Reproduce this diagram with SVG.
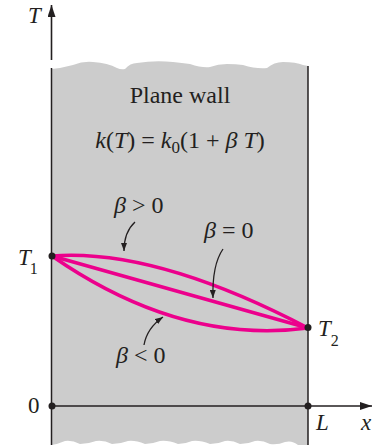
<svg xmlns="http://www.w3.org/2000/svg" width="381" height="447" viewBox="0 0 381 447">
<style>
.t{font-family:"Liberation Serif","Times New Roman",serif;fill:#231f20}
.i{font-style:italic}
.axis{stroke:#231f20;stroke-width:1.6;fill:none}
.wall{stroke:#231f20;stroke-width:1.5;fill:none}
.prof{stroke:#ec008c;stroke-width:3.5;fill:none;stroke-linecap:round}
.lead{stroke:#231f20;stroke-width:1.3;fill:none}
.dot{fill:#231f20}
</style>
<defs>
<marker id="ah" viewBox="0 0 12 8" refX="12" refY="4" markerWidth="12" markerHeight="8" markerUnits="userSpaceOnUse" orient="auto">
<path d="M0,0 L12,4 L0,8 Z" fill="#231f20"/>
</marker>
<marker id="sh" viewBox="0 0 8 6" refX="8" refY="3" markerWidth="8" markerHeight="6" markerUnits="userSpaceOnUse" orient="auto">
<path d="M0,0 L8,3 L0,6 Z" fill="#231f20"/>
</marker>
</defs>
<g id="wall">
<path d="M51.5,69 Q62,68 73,65 Q83,61 93,62 Q108,63 117,68 Q121,70 125,69 Q130,63 137,63 Q155,60 173,62 Q182,63 190,64 Q202,68 210,67 Q218,64 227,64 Q236,64 243,65 Q256,69 267,68 Q274,62 283,62 Q296,62 303,65 L308,66 L308,445 L298,445 Q292,440 285,442 Q278,445 270,444 Q262,440 255,441 Q248,444 240,444 Q232,440 225,441 Q218,444 210,444 Q200,440 192,441 Q185,444 178,444 Q168,440 160,441 Q152,444 145,444 Q135,440 128,441 Q120,444 112,444 Q104,440 96,441 Q88,444 80,444 Q72,440 65,441 Q58,444 51.5,445 Z" fill="#cccccc"/>
<line class="wall" x1="51.5" y1="68" x2="51.5" y2="445"/>
<line class="wall" x1="308" y1="66" x2="308" y2="445"/>
<text class="t" x="180" y="103" font-size="24" text-anchor="middle">Plane wall</text>
<text class="t" x="180" y="148" font-size="24" text-anchor="middle"><tspan class="i">k</tspan>(<tspan class="i">T</tspan>) = <tspan class="i">k</tspan><tspan font-size="17" dy="5">0</tspan><tspan dy="-5">(1 + </tspan><tspan class="i">β T</tspan>)</text>
</g>
<g id="axes">
<line class="axis" x1="51.5" y1="60" x2="51.5" y2="5" marker-end="url(#ah)"/>
<line class="axis" x1="51.5" y1="406" x2="372" y2="406" marker-end="url(#ah)"/>
<text class="t i" x="28" y="23" font-size="23">T</text>
<text class="t i" x="361" y="430" font-size="23">x</text>
<text class="t" x="28" y="413" font-size="23">0</text>
<text class="t i" x="316" y="430" font-size="23">L</text>
</g>
<g id="connectors">
<path class="prof" d="M52,256 Q155,248 308,328"/>
<path class="prof" d="M52,256 L308,328"/>
<path class="prof" d="M52,256 Q180,345 308,328"/>
<path class="lead" d="M135,222 Q124,232 124,251" marker-end="url(#sh)"/>
<path class="lead" d="M223,249 Q212,265 213,298" marker-end="url(#sh)"/>
<path class="lead" d="M144,345 Q147,328 163,317" marker-end="url(#sh)"/>
</g>
<g id="T1">
<circle class="dot" cx="52" cy="256" r="3.5"/>
<text class="t i" x="18" y="265" font-size="23">T<tspan font-style="normal" font-size="16" dx="-1" dy="9">1</tspan></text>
</g>
<g id="T2">
<circle class="dot" cx="308" cy="327.5" r="3.5"/>
<text class="t i" x="318" y="336" font-size="23">T<tspan font-style="normal" font-size="16" dx="0" dy="10">2</tspan></text>
</g>
<g id="origin"><circle class="dot" cx="52" cy="406" r="3.5"/></g>
<g id="Lpt"><circle class="dot" cx="308" cy="406" r="3.5"/></g>
<g id="labels">
<text class="t" x="114" y="213" font-size="24"><tspan class="i">β</tspan> &gt; 0</text>
<text class="t" x="204" y="238" font-size="24"><tspan class="i">β</tspan> = 0</text>
<text class="t" x="116" y="363" font-size="24"><tspan class="i">β</tspan> &lt; 0</text>
</g>
</svg>
